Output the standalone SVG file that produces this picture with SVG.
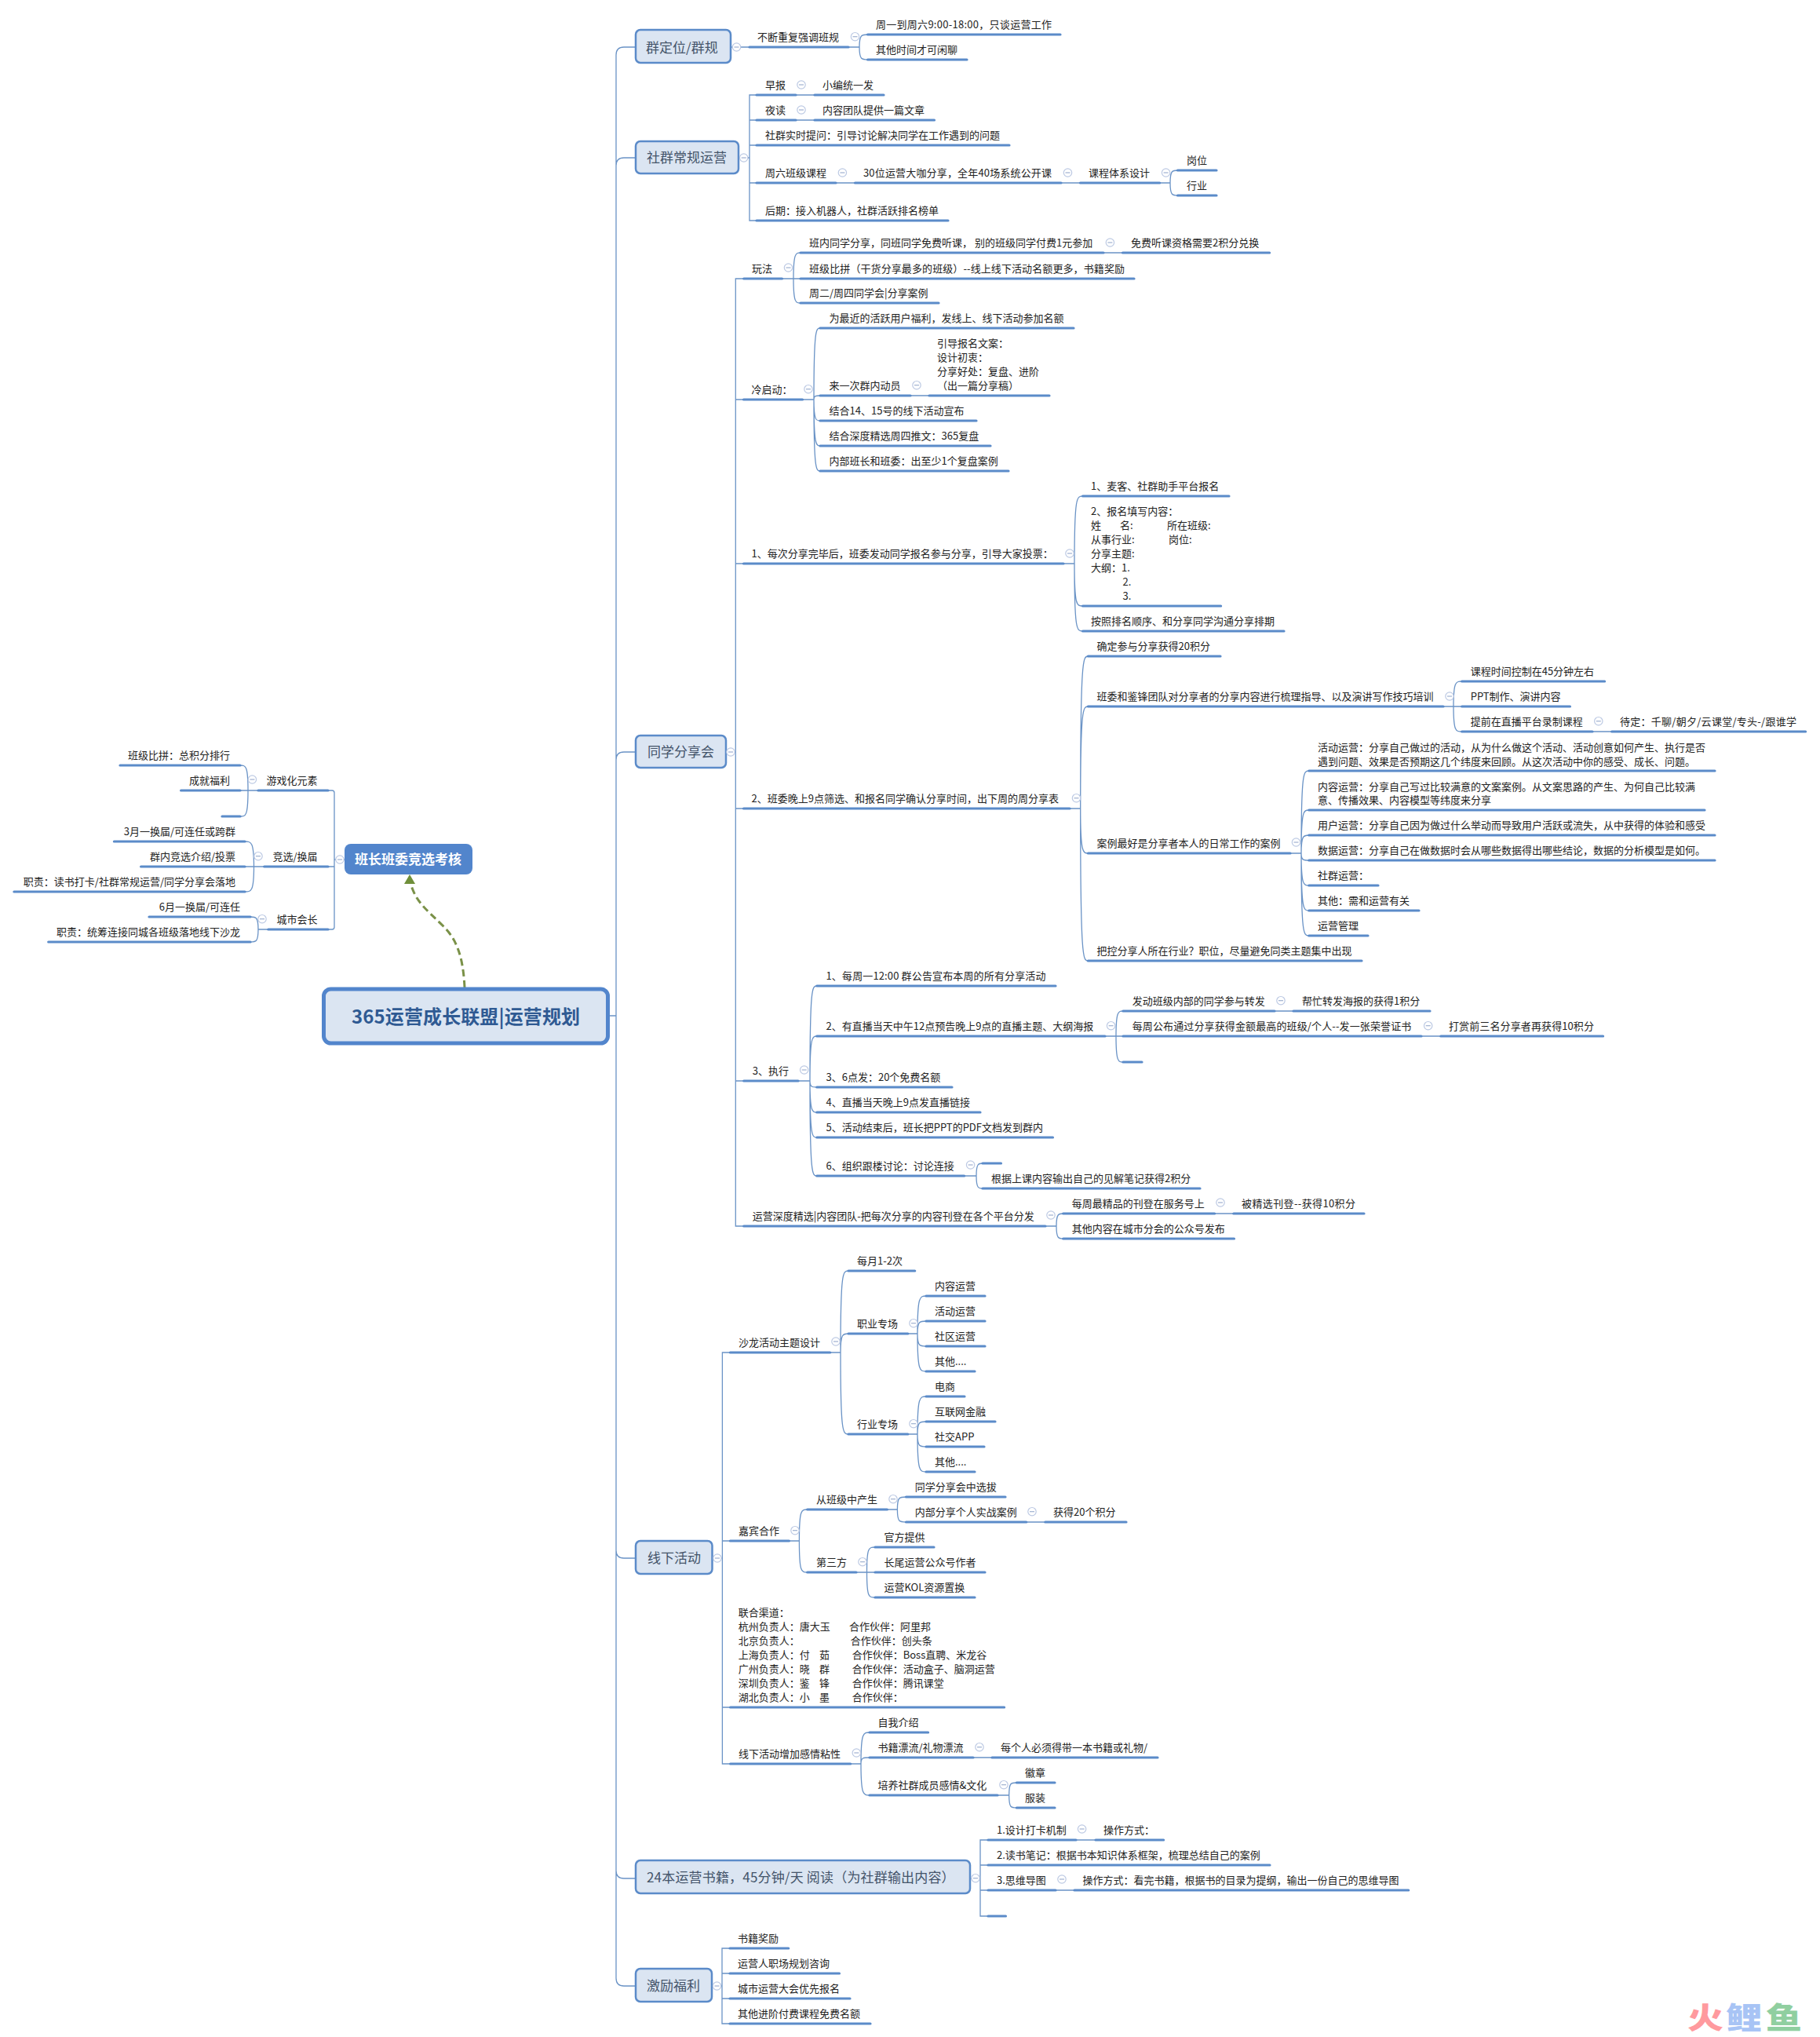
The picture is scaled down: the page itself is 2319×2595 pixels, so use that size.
<svg xmlns="http://www.w3.org/2000/svg" xmlns:xlink="http://www.w3.org/1999/xlink" width="2319" height="2595" viewBox="0 0 2319 2595">
<style>
text{font-family:"Noto Sans CJK SC","Noto Sans",sans-serif}
.t{font-size:13px;fill:#222}
.e{font-size:13px;fill:#222;text-anchor:end}
.b{font-size:17px;fill:#44546a}
.u{fill:none;stroke:#5b8bc9;stroke-width:3.2;stroke-linecap:round}
.r{fill:#dbe5f2;stroke:#5b8bc9;stroke-width:2.5}
#connectors path{fill:none;stroke:#6a93c6;stroke-width:1.3}
</style>
<defs>
<g id="m"><circle r="5.2" fill="#fff" stroke="#bcc9e3" stroke-width="1.2"/><path d="M-3 0H3" stroke="#9fb0d0" stroke-width="1.2"/></g>
</defs>
<rect width="2319" height="2595" fill="#fff"/>
<g id="connectors">
<path d="M777 1294H785M810 60H795Q785 60 785 70V2520Q785 2530 795 2530H810M810 201H795Q785 201 785 211M810 958H795Q785 958 785 968M810 1985H795Q785 1985 785 1975M810 2393H795Q785 2393 785 2383"/>
<path d="M931 60H955M1081 60H1095M1095 60C1095 44 1098 44 1106 44M1095 60C1095 76 1098 76 1106 76"/>
<path d="M941 201H955M964 121H955V281H964M955 153H964M955 185H964M955 233H964M1014 121H1038M1014 153H1038M1065 233H1089.5M1352 233H1376.5M1477.6 233H1491M1491 233C1491 217 1494 217 1500.5 217M1491 233C1491 249 1494 249 1500.5 249"/>
<path d="M925 958H937M947.5 355H937.3V1562H947.5M937.3 509H947.5M937.3 718H947.5M937.3 1030H947.5M937.3 1377H947.5"/>
<path d="M996.5 355H1020M1011 355C1011 322 1014 322 1020 322M1011 355C1011 386 1014 386 1020 386M1406 322H1430.5"/>
<path d="M1022.5 509H1037M1037 509C1037 418 1040 418 1045 418M1037 509C1037 504 1040 504 1045 504M1037 509C1037 536 1040 536 1045 536M1037 509C1037 568 1040 568 1045 568M1037 509C1037 600 1040 600 1045 600M1160 504H1184"/>
<path d="M1355 718H1369M1369 718C1369 632 1372 632 1379.6 632M1369 718C1369 772 1372 772 1379.6 772M1369 718C1369 804 1372 804 1379.6 804"/>
<path d="M1363 1030H1376.7M1376.7 1030C1376.7 836 1380 836 1386.4 836M1376.7 1030C1376.7 900 1380 900 1386.4 900M1376.7 1030C1376.7 1087 1380 1087 1386.4 1087M1376.7 1030C1376.7 1224 1380 1224 1386.4 1224"/>
<path d="M1839 900H1862.7M1852 900C1852 868 1855 868 1862.7 868M1852 900C1852 932 1855 932 1862.7 932M2029 932H2053.7"/>
<path d="M1644 1087H1658M1658 1087C1658 982 1661 982 1667.8 982M1658 1087C1658 1032 1661 1032 1667.8 1032M1658 1087C1658 1064 1661 1064 1667.8 1064M1658 1087C1658 1096 1661 1096 1667.8 1096M1658 1087C1658 1128 1661 1128 1667.8 1128M1658 1087C1658 1160 1661 1160 1667.8 1160M1658 1087C1658 1192 1661 1192 1667.8 1192"/>
<path d="M1017 1377H1032M1032 1377C1032 1256 1035 1256 1040.8 1256M1032 1377C1032 1320 1035 1320 1040.8 1320M1032 1377C1032 1385 1035 1385 1040.8 1385M1032 1377C1032 1417 1035 1417 1040.8 1417M1032 1377C1032 1449 1035 1449 1040.8 1449M1032 1377C1032 1498 1035 1498 1040.8 1498"/>
<path d="M1408 1320H1431M1422 1320C1422 1288 1425 1288 1431 1288M1422 1320C1422 1353 1425 1353 1431 1353M1624 1288H1648M1811 1320H1835.8"/>
<path d="M1228.6 1498H1244M1244 1498C1244 1482 1247 1482 1252 1482M1244 1498C1244 1514 1247 1514 1252 1514"/>
<path d="M1332 1562H1346M1346 1562C1346 1546 1349 1546 1354.7 1546M1346 1562C1346 1578 1349 1578 1354.7 1578M1547.6 1546H1571.8"/>
<path d="M907.5 1985H920.4M930.4 1723H920.4V2247H930.4M920.4 1963H930.4M920.4 2175H930.4"/>
<path d="M1057.7 1723H1071M1071 1723C1071 1619 1074 1619 1081 1619M1071 1723C1071 1699 1074 1699 1081 1699M1071 1723C1071 1827 1074 1827 1081 1827"/>
<path d="M1156.8 1699H1169M1169 1699C1169 1651 1172 1651 1180 1651M1169 1699C1169 1683 1172 1683 1180 1683M1169 1699C1169 1715 1172 1715 1180 1715M1169 1699C1169 1747 1172 1747 1180 1747"/>
<path d="M1156.8 1827H1169M1169 1827C1169 1779 1172 1779 1180 1779M1169 1827C1169 1811 1172 1811 1180 1811M1169 1827C1169 1843 1172 1843 1180 1843M1169 1827C1169 1875 1172 1875 1180 1875"/>
<path d="M1005.4 1963H1018.4M1018.4 1963C1018.4 1923 1021 1923 1028.7 1923M1018.4 1963C1018.4 2003 1021 2003 1028.7 2003"/>
<path d="M1130.4 1923H1143.4M1143.4 1923C1143.4 1907 1146 1907 1154.5 1907M1143.4 1923C1143.4 1939 1146 1939 1154.5 1939M1307.7 1939H1331.8"/>
<path d="M1091 2003H1115M1104.5 2003C1104.5 1971 1107 1971 1115 1971M1104.5 2003C1104.5 2035 1107 2035 1115 2035"/>
<path d="M1083.7 2247H1097M1097 2247C1097 2207 1100 2207 1108 2207M1097 2247C1097 2239 1100 2239 1108 2239M1097 2247C1097 2287 1100 2287 1108 2287M1240 2239H1264"/>
<path d="M1271 2287H1285.7M1285.7 2287C1285.7 2271 1288 2271 1295.4 2271M1285.7 2287C1285.7 2303 1288 2303 1295.4 2303"/>
<path d="M1236 2393H1249M1259 2344H1249V2441H1259M1249 2376H1259M1249 2408H1259M1371 2344H1396M1345 2408H1369"/>
<path d="M906.6 2530H920M930 2482H920V2578H930M920 2514H930M920 2546H930"/>
<path d="M439 1095H426M418 1007H423Q426 1007 426 1010V1181Q426 1184 423 1184H418M426 1104H418"/>
<path d="M329 1007H306M316 1007C316 975 313 975 306 975M316 1007C316 1040 313 1040 306 1040"/>
<path d="M336.7 1104H312M323.5 1104C323.5 1072 320 1072 312 1072M323.5 1104C323.5 1136 320 1136 312 1136"/>
<path d="M341.8 1184H329M329 1184C329 1168 326 1168 319 1168M329 1184C329 1200 326 1200 319 1200"/>
</g>
<path id="link" d="M592 1258C590 1215 580 1195 565 1180C545 1160 530 1150 523 1125" fill="none" stroke="#7a9148" stroke-width="3" stroke-dasharray="9 5"/>
<path id="linkhead" d="M522 1114L529 1126H515Z" fill="#6f8f3a"/>

<g id="root"><rect x="412.5" y="1260" width="362" height="69" rx="9" fill="#dbe5f2" stroke="#5285cc" stroke-width="5"/><text x="448" y="1304" font-size="24" font-weight="700" fill="#2f5a93" textLength="291">365运营成长联盟|运营规划</text></g>
<g id="monitor"><rect x="439" y="1075" width="163" height="39" rx="8" fill="#5285cc"/><text x="452" y="1101" font-size="17" font-weight="700" fill="#fff">班长班委竞选考核</text><use href="#m" x="433" y="1095"/></g>

<g id="l1"><path class="u" d="M329 1007H418"/><text class="e" x="404.6" y="999">游戏化元素</text><use href="#m" x="321.4" y="993"/></g>
<g id="l1a"><path class="u" d="M153 975H306"/><text class="e" x="293" y="967">班级比拼：总积分排行</text></g>
<g id="l1b"><path class="u" d="M230.6 1007H306"/><text class="e" x="293" y="999">成就福利</text></g>
<g id="l1c"><path class="u" d="M283 1040H306"/></g>
<g id="l2"><path class="u" d="M336.7 1104H418"/><text class="e" x="404.6" y="1096">竞选/换届</text><use href="#m" x="329" y="1090.7"/></g>
<g id="l2a"><path class="u" d="M145.4 1072H312"/><text class="e" x="300" y="1064">3月一换届/可连任或跨群</text></g>
<g id="l2b"><path class="u" d="M179.6 1104H312"/><text class="e" x="300" y="1096">群内竞选介绍/投票</text></g>
<g id="l2c"><path class="u" d="M17.9 1136H312"/><text class="e" x="300" y="1128">职责：读书打卡/社群常规运营/同学分享会落地</text></g>
<g id="l3"><path class="u" d="M341.8 1184H418"/><text class="e" x="404.6" y="1176">城市会长</text><use href="#m" x="334" y="1170.7"/></g>
<g id="l3a"><path class="u" d="M190 1168H319"/><text class="e" x="306" y="1160">6月一换届/可连任</text></g>
<g id="l3b"><path class="u" d="M61.7 1200H319"/><text class="e" x="306" y="1192">职责：统筹连接同城各班级落地线下沙龙</text></g>

<g id="a"><rect class="r" x="810" y="38" width="121" height="42" rx="6"/><text class="b" x="823" y="66.5">群定位/群规</text><use href="#m" x="938.5" y="60"/></g>
<g id="a1"><path class="u" d="M955 60H1081"/><text class="t" x="965" y="52">不断重复强调班规</text><use href="#m" x="1089.5" y="46.7"/></g>
<g id="a1a"><path class="u" d="M1105.6 44H1351"/><text class="t" x="1116" y="36" textLength="224">周一到周六9:00-18:00，只谈运营工作</text></g>
<g id="a1b"><path class="u" d="M1105.6 76H1232"/><text class="t" x="1116" y="68">其他时间才可闲聊</text></g>

<g id="b"><rect class="r" x="810" y="180" width="131" height="41" rx="6"/><text class="b" x="824" y="207">社群常规运营</text><use href="#m" x="947.7" y="201"/></g>
<g id="b1"><path class="u" d="M964 121H1014"/><text class="t" x="975" y="113">早报</text><use href="#m" x="1021" y="108"/></g>
<g id="b1a"><path class="u" d="M1038 121H1126"/><text class="t" x="1048" y="113">小编统一发</text></g>
<g id="b2"><path class="u" d="M964 153H1014"/><text class="t" x="975" y="145">夜读</text><use href="#m" x="1021" y="140"/></g>
<g id="b2a"><path class="u" d="M1038 153H1190.5"/><text class="t" x="1048" y="145">内容团队提供一篇文章</text></g>
<g id="b3"><path class="u" d="M964 185H1286"/><text class="t" x="975" y="177">社群实时提问：引导讨论解决同学在工作遇到的问题</text></g>
<g id="b4"><path class="u" d="M964 233H1065"/><text class="t" x="975" y="225">周六班级课程</text><use href="#m" x="1073.4" y="220"/></g>
<g id="b4a"><path class="u" d="M1089.5 233H1352"/><text class="t" x="1100" y="225" textLength="240">30位运营大咖分享，全年40场系统公开课</text><use href="#m" x="1360.5" y="220"/></g>
<g id="b4b"><path class="u" d="M1376.5 233H1477.6"/><text class="t" x="1387" y="225">课程体系设计</text><use href="#m" x="1485.6" y="220"/></g>
<g id="b4c"><path class="u" d="M1500.5 217H1550"/><text class="t" x="1512" y="209">岗位</text></g>
<g id="b4d"><path class="u" d="M1500.5 249H1550"/><text class="t" x="1512" y="241">行业</text></g>
<g id="b5"><path class="u" d="M964 281H1208"/><text class="t" x="975" y="273">后期：接入机器人，社群活跃排名榜单</text></g>

<g id="c"><rect class="r" x="810" y="937" width="115" height="41" rx="6"/><text class="b" x="825" y="964">同学分享会</text><use href="#m" x="931" y="958"/></g>
<g id="c1"><path class="u" d="M947.7 355H996.5"/><text class="t" x="958" y="347">玩法</text><use href="#m" x="1004.5" y="341"/></g>
<g id="c1a"><path class="u" d="M1020 322H1406"/><text class="t" x="1031" y="314">班内同学分享，同班同学免费听课， 别的班级同学付费1元参加</text><use href="#m" x="1414.4" y="309"/></g>
<g id="c1a1"><path class="u" d="M1430.5 322H1617.6"/><text class="t" x="1441" y="314">免费听课资格需要2积分兑换</text></g>
<g id="c1b"><path class="u" d="M1020 355H1445"/><text class="t" x="1031" y="347" textLength="402">班级比拼（干货分享最多的班级）--线上线下活动名额更多，书籍奖励</text></g>
<g id="c1c"><path class="u" d="M1020 386H1196"/><text class="t" x="1031" y="378">周二/周四同学会|分享案例</text></g>

<g id="c2"><path class="u" d="M947.5 509H1022.5"/><text class="t" x="957.6" y="501">冷启动：</text><use href="#m" x="1030" y="495.7"/></g>
<g id="c2a"><path class="u" d="M1045 418H1368"/><text class="t" x="1056.6" y="410">为最近的活跃用户福利，发线上、线下活动参加名额</text></g>
<g id="c2b"><path class="u" d="M1045 504H1160"/><text class="t" x="1056.6" y="496">来一次群内动员</text><use href="#m" x="1168" y="490.7"/></g>
<g id="c2b1"><path class="u" d="M1184 504H1337"/><text class="t" x="1194" y="442">引导报名文案：</text><text class="t" x="1194" y="460">设计初衷：</text><text class="t" x="1194" y="478">分享好处：复盘、进阶</text><text class="t" x="1194" y="496">（出一篇分享稿）</text></g>
<g id="c2c"><path class="u" d="M1045 536H1244"/><text class="t" x="1056.6" y="528">结合14、15号的线下活动宣布</text></g>
<g id="c2d"><path class="u" d="M1045 568H1262"/><text class="t" x="1056.6" y="560">结合深度精选周四推文：365复盘</text></g>
<g id="c2e"><path class="u" d="M1045 600H1285"/><text class="t" x="1056.6" y="592">内部班长和班委：出至少1个复盘案例</text></g>

<g id="c3"><path class="u" d="M947.5 718H1355"/><text class="t" x="957.6" y="710">1、每次分享完毕后，班委发动同学报名参与分享，引导大家投票：</text><use href="#m" x="1363" y="705"/></g>
<g id="c3a"><path class="u" d="M1379.6 632H1566"/><text class="t" x="1390" y="624">1、麦客、社群助手平台报名</text></g>
<g id="c3b"><path class="u" d="M1379.6 772H1555.6"/><text class="t" x="1390" y="656">2、报名填写内容：</text><text class="t" x="1390" y="674">姓</text><text class="t" x="1427" y="674">名:</text><text class="t" x="1487" y="674">所在班级:</text><text class="t" x="1390" y="692">从事行业:</text><text class="t" x="1489" y="692">岗位:</text><text class="t" x="1390" y="710">分享主题:</text><text class="t" x="1390" y="728">大纲：1.</text><text class="t" x="1430.6" y="746">2.</text><text class="t" x="1430.6" y="764">3.</text></g>
<g id="c3c"><path class="u" d="M1379.6 804H1636"/><text class="t" x="1390" y="796">按照排名顺序、和分享同学沟通分享排期</text></g>

<g id="c4"><path class="u" d="M947.5 1030H1363"/><text class="t" x="957.6" y="1022">2、班委晚上9点筛选、和报名同学确认分享时间，出下周的周分享表</text><use href="#m" x="1371.5" y="1016.7"/></g>
<g id="c4a"><path class="u" d="M1386.4 836H1555"/><text class="t" x="1397.5" y="828">确定参与分享获得20积分</text></g>
<g id="c4b"><path class="u" d="M1386.4 900H1839"/><text class="t" x="1397.5" y="892">班委和鉴锋团队对分享者的分享内容进行梳理指导、以及演讲写作技巧培训</text><use href="#m" x="1847" y="887"/></g>
<g id="c4b1"><path class="u" d="M1862.7 868H2044.6"/><text class="t" x="1873.7" y="860">课程时间控制在45分钟左右</text></g>
<g id="c4b2"><path class="u" d="M1862.7 900H2000.5"/><text class="t" x="1873.7" y="892">PPT制作、演讲内容</text></g>
<g id="c4b3"><path class="u" d="M1862.7 932H2029"/><text class="t" x="1873.7" y="924">提前在直播平台录制课程</text><use href="#m" x="2036.8" y="918.7"/></g>
<g id="c4b4"><path class="u" d="M2053.7 932H2300.6"/><text class="t" x="2064" y="924" textLength="225">待定：千聊/朝夕/云课堂/专头-/跟谁学</text></g>
<g id="c4c"><path class="u" d="M1386.4 1087H1644"/><text class="t" x="1397.5" y="1079">案例最好是分享者本人的日常工作的案例</text><use href="#m" x="1651.5" y="1073"/></g>
<g id="c4c1"><path class="u" d="M1667.8 982H2185"/><text class="t" x="1679" y="956.5">活动运营：分享自己做过的活动，从为什么做这个活动、活动创意如何产生、执行是否</text><text class="t" x="1679" y="974.5">遇到问题、效果是否预期这几个纬度来回顾。从这次活动中你的感受、成长、问题。</text></g>
<g id="c4c2"><path class="u" d="M1667.8 1032H2172"/><text class="t" x="1679" y="1006.5">内容运营：分享自己写过比较满意的文案案例。从文案思路的产生、为何自己比较满</text><text class="t" x="1679" y="1024">意、传播效果、内容模型等纬度来分享</text></g>
<g id="c4c3"><path class="u" d="M1667.8 1064H2185"/><text class="t" x="1679" y="1056">用户运营：分享自己因为做过什么举动而导致用户活跃或流失，从中获得的体验和感受</text></g>
<g id="c4c4"><path class="u" d="M1667.8 1096H2185"/><text class="t" x="1679" y="1088">数据运营：分享自己在做数据时会从哪些数据得出哪些结论，数据的分析模型是如何。</text></g>
<g id="c4c5"><path class="u" d="M1667.8 1128H1756"/><text class="t" x="1679" y="1120">社群运营：</text></g>
<g id="c4c6"><path class="u" d="M1667.8 1160H1808"/><text class="t" x="1679" y="1152">其他：需和运营有关</text></g>
<g id="c4c7"><path class="u" d="M1667.8 1192H1743"/><text class="t" x="1679" y="1184">运营管理</text></g>
<g id="c4d"><path class="u" d="M1386.4 1224H1735"/><text class="t" x="1397.5" y="1216">把控分享人所在行业？职位，尽量避免同类主题集中出现</text></g>

<g id="c5"><path class="u" d="M947.7 1377H1017"/><text class="t" x="958.7" y="1369">3、执行</text><use href="#m" x="1024.7" y="1363"/></g>
<g id="c5a"><path class="u" d="M1040.8 1256H1345"/><text class="t" x="1052.5" y="1248" textLength="280">1、每周一12:00 群公告宣布本周的所有分享活动</text></g>
<g id="c5b"><path class="u" d="M1040.8 1320H1408"/><text class="t" x="1052.5" y="1312">2、有直播当天中午12点预告晚上9点的直播主题、大纲海报</text><use href="#m" x="1415.6" y="1306.7"/></g>
<g id="c5b1"><path class="u" d="M1431 1288H1624"/><text class="t" x="1442.7" y="1280">发动班级内部的同学参与转发</text><use href="#m" x="1632" y="1274.7"/></g>
<g id="c5b1a"><path class="u" d="M1648 1288H1822"/><text class="t" x="1659" y="1280">帮忙转发海报的获得1积分</text></g>
<g id="c5b2"><path class="u" d="M1431 1320H1811"/><text class="t" x="1442.7" y="1312" textLength="355.6">每周公布通过分享获得金额最高的班级/个人--发一张荣誉证书</text><use href="#m" x="1819.7" y="1306.7"/></g>
<g id="c5b2a"><path class="u" d="M1835.8 1320H2042.6"/><text class="t" x="1846" y="1312" textLength="185">打赏前三名分享者再获得10积分</text></g>
<g id="c5b3"><path class="u" d="M1431 1353H1455"/></g>
<g id="c5c"><path class="u" d="M1040.8 1385H1213"/><text class="t" x="1052.5" y="1377">3、6点发：20个免费名额</text></g>
<g id="c5d"><path class="u" d="M1040.8 1417H1249"/><text class="t" x="1052.5" y="1409">4、直播当天晚上9点发直播链接</text></g>
<g id="c5e"><path class="u" d="M1040.8 1449H1341.5"/><text class="t" x="1052.5" y="1441" textLength="276.5">5、活动结束后，班长把PPT的PDF文档发到群内</text></g>
<g id="c5f"><path class="u" d="M1040.8 1498H1228.6"/><text class="t" x="1052.5" y="1490">6、组织跟楼讨论：讨论连接</text><use href="#m" x="1236.6" y="1484"/></g>
<g id="c5f1"><path class="u" d="M1252 1482H1275.5"/></g>
<g id="c5f2"><path class="u" d="M1252 1514H1529"/><text class="t" x="1263" y="1506">根据上课内容输出自己的见解笔记获得2积分</text></g>

<g id="c6"><path class="u" d="M947.7 1562H1332"/><text class="t" x="958.7" y="1554">运营深度精选|内容团队-把每次分享的内容刊登在各个平台分发</text><use href="#m" x="1339" y="1548"/></g>
<g id="c6a"><path class="u" d="M1354.7 1546H1547.6"/><text class="t" x="1365.7" y="1538">每周最精品的刊登在服务号上</text><use href="#m" x="1555" y="1532"/></g>
<g id="c6a1"><path class="u" d="M1571.8 1546H1738"/><text class="t" x="1582" y="1538" textLength="145">被精选刊登--获得10积分</text></g>
<g id="c6b"><path class="u" d="M1354.7 1578H1572.5"/><text class="t" x="1365.7" y="1570">其他内容在城市分会的公众号发布</text></g>

<g id="d"><rect class="r" x="810" y="1963" width="97.5" height="42" rx="6"/><text class="b" x="825" y="1991">线下活动</text><use href="#m" x="914" y="1985"/></g>
<g id="d1"><path class="u" d="M930.4 1723H1057.7"/><text class="t" x="941" y="1715">沙龙活动主题设计</text><use href="#m" x="1065" y="1709"/></g>
<g id="d1a"><path class="u" d="M1081 1619H1165.7"/><text class="t" x="1092" y="1611">每月1-2次</text></g>
<g id="d1b"><path class="u" d="M1081 1699H1156.8"/><text class="t" x="1092" y="1691">职业专场</text><use href="#m" x="1164" y="1685.7"/></g>
<g id="d1b1"><path class="u" d="M1180 1651H1255"/><text class="t" x="1191" y="1643">内容运营</text></g>
<g id="d1b2"><path class="u" d="M1180 1683H1255"/><text class="t" x="1191" y="1675">活动运营</text></g>
<g id="d1b3"><path class="u" d="M1180 1715H1255"/><text class="t" x="1191" y="1707">社区运营</text></g>
<g id="d1b4"><path class="u" d="M1180 1747H1242"/><text class="t" x="1191" y="1739">其他....</text></g>
<g id="d1c"><path class="u" d="M1081 1827H1156.8"/><text class="t" x="1092" y="1819">行业专场</text><use href="#m" x="1164" y="1813.7"/></g>
<g id="d1c1"><path class="u" d="M1180 1779H1229"/><text class="t" x="1191" y="1771">电商</text></g>
<g id="d1c2"><path class="u" d="M1180 1811H1268"/><text class="t" x="1191" y="1803">互联网金融</text></g>
<g id="d1c3"><path class="u" d="M1180 1843H1254"/><text class="t" x="1191" y="1835">社交APP</text></g>
<g id="d1c4"><path class="u" d="M1180 1875H1242"/><text class="t" x="1191" y="1867">其他....</text></g>
<g id="d2"><path class="u" d="M930.4 1963H1005.4"/><text class="t" x="941" y="1955">嘉宾合作</text><use href="#m" x="1013" y="1949.7"/></g>
<g id="d2a"><path class="u" d="M1028.7 1923H1130.4"/><text class="t" x="1040" y="1915">从班级中产生</text><use href="#m" x="1138" y="1909.7"/></g>
<g id="d2a1"><path class="u" d="M1154.5 1907H1281"/><text class="t" x="1165.7" y="1899">同学分享会中选拔</text></g>
<g id="d2a2"><path class="u" d="M1154.5 1939H1307.7"/><text class="t" x="1165.7" y="1931">内部分享个人实战案例</text><use href="#m" x="1315" y="1925.7"/></g>
<g id="d2a3"><path class="u" d="M1331.8 1939H1435"/><text class="t" x="1342" y="1931">获得20个积分</text></g>
<g id="d2b"><path class="u" d="M1028.7 2003H1091"/><text class="t" x="1040" y="1995">第三方</text><use href="#m" x="1099" y="1989.7"/></g>
<g id="d2b1"><path class="u" d="M1115 1971H1190"/><text class="t" x="1126.4" y="1963">官方提供</text></g>
<g id="d2b2"><path class="u" d="M1115 2003H1255"/><text class="t" x="1126.4" y="1995">长尾运营公众号作者</text></g>
<g id="d2b3"><path class="u" d="M1115 2035H1242"/><text class="t" x="1126.4" y="2027">运营KOL资源置换</text></g>
<g id="d3"><path class="u" d="M930.6 2175H1279.6"/>
<text class="t" x="940.8" y="2059">联合渠道：</text>
<text class="t" x="940.8" y="2077">杭州负责人：唐大玉</text><text class="t" x="1082" y="2077">合作伙伴：阿里邦</text>
<text class="t" x="940.8" y="2095">北京负责人：</text><text class="t" x="1083.7" y="2095">合作伙伴：创头条</text>
<text class="t" x="940.8" y="2113">上海负责人：付</text><text class="t" x="1044" y="2113">茹</text><text class="t" x="1085.7" y="2113">合作伙伴：Boss直聘、米龙谷</text>
<text class="t" x="940.8" y="2131">广州负责人：晓</text><text class="t" x="1044" y="2131">群</text><text class="t" x="1085.7" y="2131">合作伙伴：活动盒子、脑洞运营</text>
<text class="t" x="940.8" y="2149">深圳负责人：鉴</text><text class="t" x="1044" y="2149">锋</text><text class="t" x="1085.7" y="2149">合作伙伴：腾讯课堂</text>
<text class="t" x="940.8" y="2167">湖北负责人：小</text><text class="t" x="1044" y="2167">墨</text><text class="t" x="1085.7" y="2167">合作伙伴：</text></g>
<g id="d4"><path class="u" d="M930.6 2247H1083.7"/><text class="t" x="941" y="2239">线下活动增加感情粘性</text><use href="#m" x="1091.3" y="2233"/></g>
<g id="d4a"><path class="u" d="M1108 2207H1182.6"/><text class="t" x="1118.4" y="2199">自我介绍</text></g>
<g id="d4b"><path class="u" d="M1108 2239H1240"/><text class="t" x="1118.4" y="2231">书籍漂流/礼物漂流</text><use href="#m" x="1248" y="2225.7"/></g>
<g id="d4b1"><path class="u" d="M1264 2239H1475"/><text class="t" x="1275" y="2231">每个人必须得带一本书籍或礼物/</text></g>
<g id="d4c"><path class="u" d="M1108 2287H1271"/><text class="t" x="1118.4" y="2279">培养社群成员感情&amp;文化</text><use href="#m" x="1279" y="2273.7"/></g>
<g id="d4c1"><path class="u" d="M1295.4 2271H1344"/><text class="t" x="1306" y="2263">徽章</text></g>
<g id="d4c2"><path class="u" d="M1295.4 2303H1344"/><text class="t" x="1306" y="2295">服装</text></g>

<g id="e"><rect class="r" x="810" y="2370" width="426" height="42" rx="6"/><text class="b" x="824" y="2398" textLength="392.6">24本运营书籍，45分钟/天 阅读（为社群输出内容）</text><use href="#m" x="1243" y="2392.7"/></g>
<g id="e1"><path class="u" d="M1259 2344H1371"/><text class="t" x="1270" y="2336">1.设计打卡机制</text><use href="#m" x="1378.6" y="2330"/></g>
<g id="e1a"><path class="u" d="M1396 2344H1482.6"/><text class="t" x="1406" y="2336">操作方式：</text></g>
<g id="e2"><path class="u" d="M1259 2376H1618"/><text class="t" x="1270" y="2368">2.读书笔记：根据书本知识体系框架，梳理总结自己的案例</text></g>
<g id="e3"><path class="u" d="M1259 2408H1345"/><text class="t" x="1270" y="2400">3.思维导图</text><use href="#m" x="1353" y="2394"/></g>
<g id="e3a"><path class="u" d="M1369 2408H1794.7"/><text class="t" x="1379.6" y="2400">操作方式：看完书籍，根据书的目录为提纲，输出一份自己的思维导图</text></g>
<g id="e4"><path class="u" d="M1259 2441H1281.5"/></g>

<g id="f"><rect class="r" x="810" y="2508" width="97" height="42" rx="6"/><text class="b" x="824" y="2536">激励福利</text><use href="#m" x="913.5" y="2530"/></g>
<g id="f1"><path class="u" d="M930 2482H1004.7"/><text class="t" x="940" y="2474">书籍奖励</text></g>
<g id="f2"><path class="u" d="M930 2514H1069.5"/><text class="t" x="940" y="2506">运营人职场规划咨询</text></g>
<g id="f3"><path class="u" d="M930 2546H1083"/><text class="t" x="940" y="2538">城市运营大会优先报名</text></g>
<g id="f4"><path class="u" d="M930 2578H1109"/><text class="t" x="940" y="2570">其他进阶付费课程免费名额</text></g>

<g id="watermark" font-size="46" font-weight="900"><text transform="translate(2150 2584) scale(1 .82)" fill="#ff9a9e">火</text><text transform="translate(2199 2584) scale(1 .82)" fill="#a8c4f5">鲤</text><text transform="translate(2250 2584) scale(1 .82)" fill="#90cfa0">鱼</text></g>
</svg>
